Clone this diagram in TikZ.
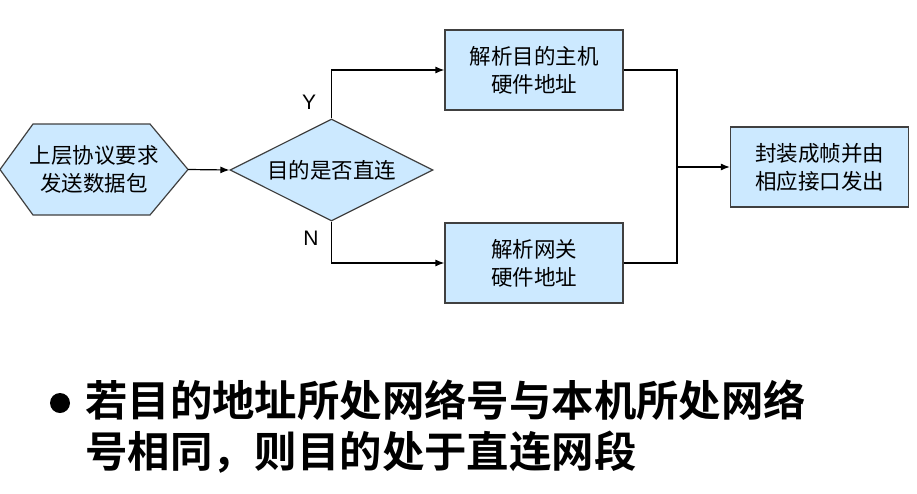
\documentclass[tikz,border=0pt]{standalone}
\usepackage{fontspec}
\setmainfont{Liberation Sans}
\newfontfamily\cjk{Noto Sans CJK SC}
\newfontfamily\cjkb{Noto Sans CJK SC Bold}
\usetikzlibrary{shapes.geometric,arrows.meta}
\definecolor{boxfill}{HTML}{CCE9FF}
\definecolor{boxline}{HTML}{404040}
\tikzset{
  box/.style={draw=boxline, fill=boxfill, line width=1.2pt, minimum width=178pt, minimum height=80pt, inner sep=0pt, align=center, font=\cjk\fontsize{21.5}{28}\selectfont},
  conn/.style={draw=black, line width=1.2pt, -{Latex[length=9pt,width=7pt]}},
  plain/.style={draw=black, line width=1.2pt},
  lbl/.style={font=\fontsize{21}{24}\selectfont, inner sep=0pt}
}
\begin{document}
\begin{tikzpicture}[x=1pt,y=-1pt]
\useasboundingbox (0,0) rectangle (917,493);
% hexagon source
\fill[boxfill] (0,169.5) -- (33,124) -- (150,124) -- (188,169.5) -- (150,215) -- (33,215) -- cycle;
\draw[boxline, line width=1.2pt] (0,169.5) -- (33,124) -- (150,124) -- (188,169.5) -- (150,215) -- (33,215) -- cycle;
\node[minimum width=188pt, minimum height=91pt, inner sep=0pt, align=center, font=\cjk\fontsize{21.5}{28}\selectfont] (src) at (94,169.5) {上层协议要求\\发送数据包};
% decision diamond
\node[diamond, draw=boxline, fill=boxfill, line width=1.2pt, minimum width=203pt, minimum height=102pt, inner sep=0pt] (dec) at (331.5,170) {};
\node[font=\cjk\fontsize{21.5}{28}\selectfont, inner sep=0pt] (dect) at (dec.center) {目的是否直连};
% boxes
\node[box] (top) at (534,70) {解析目的主机\\硬件地址};
\node[box] (bot) at (534,263) {解析网关\\硬件地址};
\node[box] (out) at (819.5,167) {封装成帧并由\\相应接口发出};
\coordinate (j) at (677,167);
% connectors
\draw[conn] (src.east) -- (dec.west);
\draw[conn] (dec.north) |- (top.west);
\draw[conn] (dec.south) |- (bot.west);
\draw[plain] (top.east) -| (j);
\draw[plain] (bot.east) -| (j);
\draw[conn] (j) -- (out.west);
\node[lbl] (y) at (309,102) {Y};
\node[lbl] (n) at (311,238) {N};
% bullet text
\node[circle, fill=black, minimum size=20pt, inner sep=0pt] (bul) at (60,403) {};
\node[anchor=west, align=left, inner sep=0pt, font=\cjkb\fontsize{42.4}{51}\selectfont] (txt) at (85,427) {若目的地址所处网络号与本机所处网络\\号相同，则目的处于直连网段};
\end{tikzpicture}
\end{document}
